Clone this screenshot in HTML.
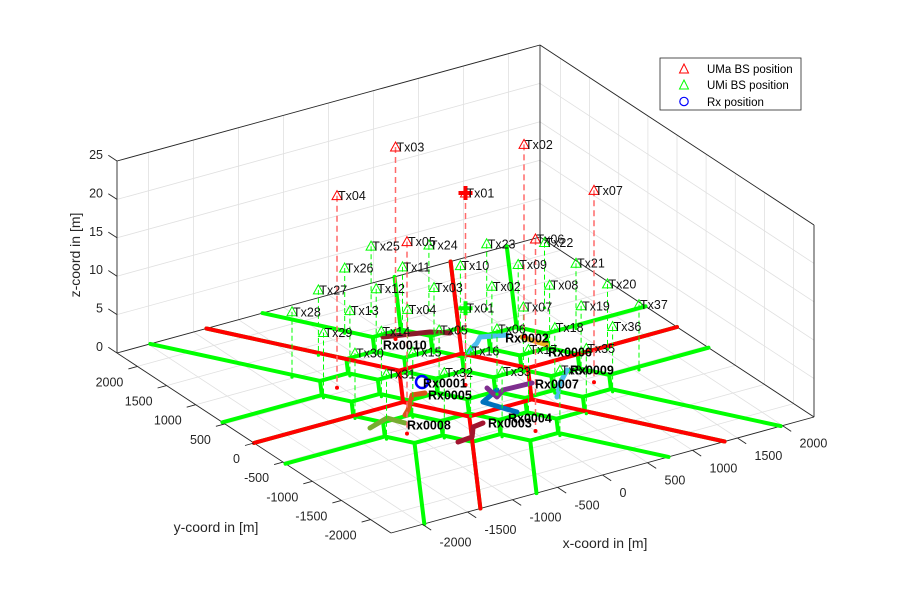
<!DOCTYPE html>
<html><head><meta charset="utf-8">
<style>
html,body{margin:0;padding:0;background:#fff;}
svg{display:block;font-family:"Liberation Sans",Arial,sans-serif;}
</style></head>
<body>
<svg id="chart" width="900" height="600" viewBox="0 0 900 600" xmlns="http://www.w3.org/2000/svg">
<rect width="900" height="600" fill="#fff"/>
<g id="grid"></g>
<g id="box"></g>
<g id="roads"></g>
<g id="tracks"></g>
<g id="stems"></g>
<g id="marks"></g>
<g id="labels"></g>
<g id="ticks"></g>
<text x="605" y="548" font-size="14" text-anchor="middle" fill="#262626">x-coord in [m]</text>
<text x="216" y="532" font-size="14" text-anchor="middle" fill="#262626">y-coord in [m]</text>
<text x="0" y="0" font-size="14" text-anchor="middle" fill="#262626" transform="translate(80,255) rotate(-90)">z-coord in [m]</text>
<g>
<rect x="660" y="58" width="141" height="52" fill="#fff" stroke="#262626" stroke-width="0.8"/>
<g>
<polygon points="684,64 679.5,73 688.5,73" fill="none" stroke="#ff0000" stroke-width="1"/>
<text x="707" y="73" font-size="11.5" fill="#000">UMa BS position</text></g>
<g>
<polygon points="684,80 679.5,89 688.5,89" fill="none" stroke="#00ff00" stroke-width="1"/>
<text x="707" y="89" font-size="11.5" fill="#000">UMi BS position</text></g>
<g>
<circle cx="684" cy="101.5" r="4.2" fill="none" stroke="#0000ff" stroke-width="1.2"/>
<text x="707" y="106" font-size="11.5" fill="#000">Rx position</text></g>
</g>
</svg>
<script>
// ---------- data ----------
const xTicks=[-2000,-1500,-1000,-500,0,500,1000,1500,2000];
const yTicks=[-2000,-1500,-1000,-500,0,500,1000,1500,2000];
const zTicks=[0,5,10,15,20,25];
const umaNames=["Tx01","Tx02","Tx03","Tx04","Tx05","Tx06","Tx07"];
const umaX=[0,1039,0,-1039,-1039,0,1039];
const umaY=[0,600,1200,600,-600,-1200,-600];
const umaH=25;
const umiX=[0,468,0,-468,-468,0,468,935,935,468,0,-468,-935,-935,-935,-468,0,468,935,1403,1403,1403,935,468,0,-468,-935,-1403,-1403,-1403,-1403,-935,-468,0,468,935,1403];
const umiY=[0,270,540,270,-270,-540,-270,0,540,810,1080,810,540,0,-540,-810,-1080,-810,-540,-270,270,810,1080,1350,1620,1350,1080,810,270,-270,-810,-1080,-1350,-1620,-1350,-1080,-810];
const umiH=10;
const umiStemBottom=1.5;
const roadCellCount=19;
const umiISD=540;
const umaCellRadius=693;
const rxNames=["Rx0001","Rx0002","Rx0003","Rx0004","Rx0005","Rx0006","Rx0007","Rx0008","Rx0009","Rx0010"];
const rxColors=["#0000ff","#4DBEEE","#A2142F","#0072BD","#D95319","#EDB120","#7E2F8E","#77AC30","#4DBEEE","#8B1A2B"];
const rxTrackX=[[-305],[413,591,687,921],[-316,-442,-569,-739],[187,-66,20,82],[-413,-538,-749,-832],[1016,1116],[133,104,234,545],[-927,-1009,-1262],[975,765,574],[-74,354,499]];
const rxTrackY=[[275],[595,716,811,711],[-788,-812,-991,-1012],[-251,-401,-613,-757],[57,86,-170,-247],[599,325],[-164,-380,-281,-299],[-394,-212,-310],[-237,-440,-683],[1301,1155,1036]];
const rxLabelX=[-309,871,-277,-61,-413,1041,557,-936,998,-170];
const rxLabelY=[252,666,-814,-823,5,191,-333,-442,-252,1154];

// ---------- axes ----------
const L=2350, ZMAX=25;
const A=[117,353],B=[391,533],C=[814,417];
const ex=[(C[0]-B[0])/(2*L),(C[1]-B[1])/(2*L)];
const ey=[(A[0]-B[0])/(2*L),(A[1]-B[1])/(2*L)];
const zs=(353-161)/ZMAX;
function P(x,y,z){return [B[0]+(x+L)*ex[0]+(y+L)*ey[0], B[1]+(x+L)*ex[1]+(y+L)*ey[1]-z*zs];}
const NS="http://www.w3.org/2000/svg";
function el(tag,attrs,parent){const e=document.createElementNS(NS,tag);for(const k in attrs)e.setAttribute(k,attrs[k]);parent.appendChild(e);return e;}
function line3(p,q,attrs,parent){const a=P(...p),b=P(...q);return el("line",Object.assign({x1:a[0].toFixed(1),y1:a[1].toFixed(1),x2:b[0].toFixed(1),y2:b[1].toFixed(1)},attrs),parent);}
const g=id=>document.getElementById(id);

// grid
const G=g("grid"), gs={stroke:"#e0e0e0","stroke-width":0.8};
xTicks.forEach(v=>{let l=line3([v,-L,0],[v,L,0],gs,G);
 l=line3([v,L,0],[v,L,ZMAX],gs,G);});
yTicks.forEach(v=>{let l=line3([-L,v,0],[L,v,0],gs,G);
 l=line3([L,v,0],[L,v,ZMAX],gs,G);});
zTicks.forEach(v=>{let l=line3([-L,L,v],[L,L,v],gs,G);
 l=line3([L,L,v],[L,-L,v],gs,G);});

// box
const BX=g("box"), bs={stroke:"#262626","stroke-width":0.9};
[[[-L,L,0],[-L,-L,0]],[[-L,-L,0],[L,-L,0]],[[-L,L,0],[L,L,0]],[[L,L,0],[L,-L,0]],
 [[-L,L,0],[-L,L,ZMAX]],[[L,L,0],[L,L,ZMAX]],[[L,-L,0],[L,-L,ZMAX]],
 [[-L,L,ZMAX],[L,L,ZMAX]],[[L,L,ZMAX],[L,-L,ZMAX]]].forEach(e=>{const l=line3(e[0],e[1],bs,BX);
 });

// ticks & labels
const T=g("ticks"), ts={stroke:"#262626","stroke-width":0.9};
xTicks.forEach(v=>{const l=line3([v,-L,0],[v,-L-150,0],ts,T);
 const p=P(v,-L,0);const t=el("text",{x:(p[0]+17).toFixed(1),y:(p[1]+22).toFixed(1),"font-size":12.5,fill:"#262626"},T);t.textContent=v;
 });
yTicks.forEach(v=>{const l=line3([-L,v,0],[-L-100,v,0],ts,T);
 const p=P(-L,v,0);const t=el("text",{x:(p[0]-14).toFixed(1),y:(p[1]+20).toFixed(1),"font-size":12.5,fill:"#262626","text-anchor":"end"},T);t.textContent=v;
 });
zTicks.forEach(v=>{const l=line3([-L,L,v],[-L,L+150,v],ts,T);
 const p=P(-L,L,v);const t=el("text",{x:(p[0]-14).toFixed(1),y:(p[1]-2).toFixed(1),"font-size":12.5,fill:"#262626","text-anchor":"end"},T);t.textContent=v;
 });

// ---------- roads ----------
const R=g("roads");
const Rh=umiISD/Math.sqrt(3);
const edges={},verts={};
function vkey(x,y){return Math.round(x/25)+","+Math.round(y/25);}
for(let i=0;i<roadCellCount;i++){
 const vs=[];for(let k=0;k<6;k++){const a=k*Math.PI/3;vs.push([umiX[i]+Rh*Math.cos(a),umiY[i]+Rh*Math.sin(a)]);}
 for(let k=0;k<6;k++){const p=vs[k],q=vs[(k+1)%6];const kp=vkey(...p),kq=vkey(...q);
  const ek=kp<kq?kp+"|"+kq:kq+"|"+kp;if(!edges[ek]){edges[ek]=[p,q];
   (verts[kp]=verts[kp]||{p:p,n:[]}).n.push(q);(verts[kq]=verts[kq]||{p:q,n:[]}).n.push(p);}}
}
function clipRay(p,d){let t=1e9;if(d[0]>1e-9)t=Math.min(t,(L-p[0])/d[0]);if(d[0]<-1e-9)t=Math.min(t,(-L-p[0])/d[0]);
 if(d[1]>1e-9)t=Math.min(t,(L-p[1])/d[1]);if(d[1]<-1e-9)t=Math.min(t,(-L-p[1])/d[1]);return [p[0]+d[0]*t,p[1]+d[1]*t];}
const gr={stroke:"#00ff00","stroke-width":4,"stroke-linecap":"round"};
Object.values(edges).forEach(e=>{const l=line3([e[0][0],e[0][1],0],[e[1][0],e[1][1],0],gr,R);
 });
Object.values(verts).forEach(v=>{if(v.n.length===2){let u=[0,0];v.n.forEach(q=>{const dx=q[0]-v.p[0],dy=q[1]-v.p[1],m=Math.hypot(dx,dy);u[0]-=dx/m;u[1]-=dy/m;});
 const m=Math.hypot(u[0],u[1]);const d=[u[0]/m,u[1]/m];const e=clipRay(v.p,d);
 const l=line3([v.p[0],v.p[1],0],[e[0],e[1],0],gr,R);}});
const rr={stroke:"#ff0000","stroke-width":4,"stroke-linecap":"round"};
for(let k=0;k<6;k++){const a=k*Math.PI/3,b=(k+1)*Math.PI/3;
 const p=[umaCellRadius*Math.cos(a),umaCellRadius*Math.sin(a)],q=[umaCellRadius*Math.cos(b),umaCellRadius*Math.sin(b)];
 let l=line3([p[0],p[1],0],[q[0],q[1],0],rr,R);
 const e=clipRay(p,[Math.cos(a),Math.sin(a)]);
 l=line3([p[0],p[1],0],[e[0],e[1],0],rr,R);}

// ---------- rx tracks ----------
const TR=g("tracks");
rxNames.forEach((n,i)=>{
 if(rxTrackX[i].length>1){const pts=rxTrackX[i].map((x,j)=>P(x,rxTrackY[i][j],0).map(v=>v.toFixed(1)).join(",")).join(" ");
  const pl=el("polyline",{points:pts,fill:"none",stroke:rxColors[i],"stroke-width":5,"stroke-linejoin":"round","stroke-linecap":"round"},TR);
  }
});
const c0=P(rxTrackX[0][0],rxTrackY[0][0],0);
const rc=el("circle",{cx:c0[0].toFixed(1),cy:c0[1].toFixed(1),r:6,fill:"none",stroke:"#0000ff","stroke-width":2.5},TR);


// ---------- stems & markers ----------
const S=g("stems"),M=g("marks"),LB=g("labels");
function tri(p,color,parent){const s=5;return el("polygon",{points:`${p[0]},${p[1]-s} ${p[0]-s},${p[1]+s*0.8} ${p[0]+s},${p[1]+s*0.8}`,fill:"none",stroke:color,"stroke-width":1},parent);}
umiX.forEach((x,i)=>{const y=umiY[i];
 const l=line3([x,y,umiH],[x,y,umiStemBottom],{stroke:"#00ff00","stroke-width":1,"stroke-dasharray":"5,3"},S);
 
 const b=P(x,y,umiStemBottom);const d=el("circle",{cx:b[0].toFixed(1),cy:b[1].toFixed(1),r:1.6,fill:"#00ff00"},S);
 
 const p=P(x,y,umiH);const t=tri(p,"#00ff00",M);
 const tx=el("text",{x:(p[0]+1).toFixed(1),y:(p[1]+4.5).toFixed(1),"font-size":12.5,fill:"#111"},LB);
 tx.textContent="Tx"+String(i+1).padStart(2,"0");
 });
umaX.forEach((x,i)=>{const y=umaY[i];
 const l=line3([x,y,umaH],[x,y,0],{stroke:"#ff6a6a","stroke-width":1.5,"stroke-dasharray":"6,4"},S);
 
 const b=P(x,y,0);const d=el("circle",{cx:b[0].toFixed(1),cy:b[1].toFixed(1),r:2,fill:"#ff0000"},S);
 
 const p=P(x,y,umaH);const t=tri(p,"#ff0000",M);
 const tx=el("text",{x:(p[0]+1).toFixed(1),y:(p[1]+4.5).toFixed(1),"font-size":12.5,fill:"#111"},LB);
 tx.textContent=umaNames[i];
 });
// center site plus markers
[[umaX[0],umaY[0],umaH,"#ff0000"],[umiX[0],umiY[0],umiH,"#00ff00"]].forEach(c=>{const p=P(c[0],c[1],c[2]);
 const pl=el("path",{d:`M${p[0]-7},${p[1]}H${p[0]+7}M${p[0]},${p[1]-7}V${p[1]+7}`,stroke:c[3],"stroke-width":4,fill:"none"},M);
 });
// rx labels
rxNames.forEach((n,i)=>{const p=P(rxLabelX[i],rxLabelY[i],0);
 const t=el("text",{x:p[0].toFixed(1),y:(p[1]+4.5).toFixed(1),"font-size":12.5,"font-weight":"bold",fill:"#000"},LB);
 t.textContent=n;
 });
</script>
</body></html>
